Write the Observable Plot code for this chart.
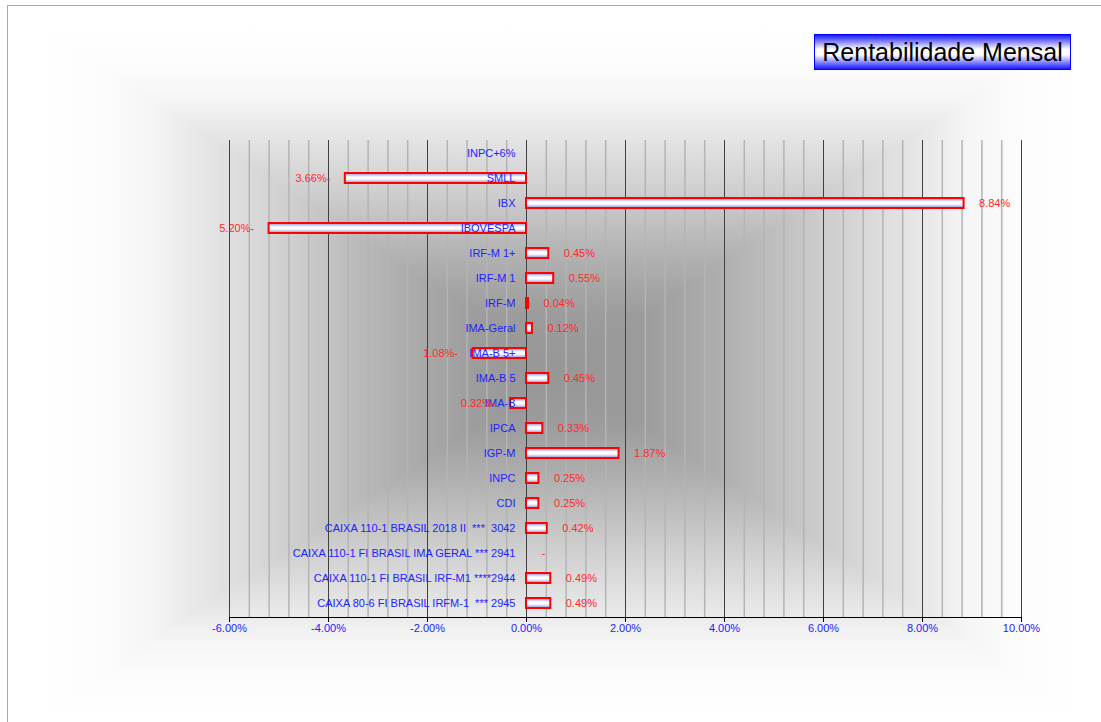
<!DOCTYPE html>
<html>
<head>
<meta charset="utf-8">
<script src="https://cdn.jsdelivr.net/npm/d3@7"></script>
<script src="https://cdn.jsdelivr.net/npm/@observablehq/plot@0.6"></script>
<style>
html, body { margin: 0; padding: 0; background: #fff; overflow: hidden; }
#wrap { position: relative; width: 1101px; height: 722px; overflow: hidden; }
#frame { position: absolute; left: 7px; top: 5px; width: 1200px; height: 800px;
  border-left: 1px solid #aaa; border-top: 1px solid #aaa; }
#bg { position: absolute; left: 40px; top: 25px; width: 1040px; height: 690px;
  background:
    linear-gradient(to right, #fff 0%, #fcfcfc 6%, #f5f5f5 11%, #e8e8e8 15%, #e0e0e0 18%, #cccccc 25%, #b0b0b0 34%, #9c9c9c 42%, #969696 50%, #9c9c9c 58%, #b0b0b0 66%, #cccccc 75%, #e0e0e0 82%, #e8e8e8 85%, #f5f5f5 89%, #fcfcfc 94%, #fff 100%),
    linear-gradient(to bottom, #fff 0%, #fcfcfc 6%, #f5f5f5 11%, #e8e8e8 15%, #e0e0e0 18%, #cccccc 25%, #b0b0b0 34%, #9c9c9c 42%, #969696 50%, #9c9c9c 58%, #b0b0b0 66%, #cccccc 75%, #e0e0e0 82%, #e8e8e8 85%, #f5f5f5 89%, #fcfcfc 94%, #fff 100%);
  background-blend-mode: lighten; }
#chart { position: absolute; left: 0; top: 0; }
#chart svg text { white-space: pre; }
#title { position: absolute; left: 814px; top: 34px; width: 255px; height: 34px;
  border: 1px solid #0000ff;
  background: linear-gradient(to bottom, #1a1aff 0%, #ffffff 42%, #ffffff 58%, #1a1aff 100%);
  font-family: Arial, "Liberation Sans", sans-serif; font-size: 25px; color: #000;
  text-align: center; line-height: 34px; white-space: nowrap; }
</style>
</head>
<body>
<div id="wrap">
  <div id="frame"></div>
  <div id="bg"></div>
  <div id="chart"></div>
  <div id="title">Rentabilidade Mensal</div>
</div>
<script>
// ---- data ----
const categories = [
  "INPC+6%",
  "SMLL",
  "IBX",
  "IBOVESPA",
  "IRF-M 1+",
  "IRF-M 1",
  "IRF-M",
  "IMA-Geral",
  "IMA-B 5+",
  "IMA-B 5",
  "IMA-B",
  "IPCA",
  "IGP-M",
  "INPC",
  "CDI",
  "CAIXA 110-1 BRASIL 2018 II  ***  3042",
  "CAIXA 110-1 FI BRASIL IMA GERAL *** 2941",
  "CAIXA 110-1 FI BRASIL IRF-M1 ****2944",
  "CAIXA 80-6 FI BRASIL IRFM-1  *** 2945"
];
const values = [null, -3.66, 8.84, -5.20, 0.45, 0.55, 0.04, 0.12, -1.08, 0.45, -0.32, 0.33, 1.87, 0.25, 0.25, 0.42, null, 0.49, 0.49];
const valueLabels = ["", "3.66%-", "8.84%", "5.20%-", "0.45%", "0.55%", "0.04%", "0.12%", "1.08%-", "0.45%", "0.32%-", "0.33%", "1.87%", "0.25%", "0.25%", "0.42%", "-", "0.49%", "0.49%"];
const xTicks = [-6, -4, -2, 0, 2, 4, 6, 8, 10];
const minorTicks = [-5.6, -5.2, -4.8, -4.4, -3.6, -3.2, -2.8, -2.4, -1.6, -1.2, -0.8, -0.4,
  0.4, 0.8, 1.2, 1.6, 2.4, 2.8, 3.2, 3.6, 4.4, 4.8, 5.2, 5.6, 6.4, 6.8, 7.2, 7.6, 8.4, 8.8, 9.2, 9.6];

const rows = categories.map((c, i) => ({name: c, value: values[i], label: valueLabels[i]}));
const fmt = d => d.toFixed(2) + "%";

const plot = Plot.plot({
  width: 1101,
  height: 722,
  marginLeft: 229,
  marginRight: 80,
  marginTop: 140,
  marginBottom: 105,
  style: {background: "transparent", fontFamily: "Arial, 'Liberation Sans', sans-serif", fontSize: "11px"},
  x: {domain: [-6, 10], ticks: xTicks, tickFormat: fmt},
  y: {domain: categories, range: [140, 615], paddingInner: 0.6, paddingOuter: 0.3, axis: null},
  marks: [
    Plot.ruleX(minorTicks, {stroke: "#b4b4b4", strokeWidth: 1.5}),
    Plot.ruleX(xTicks, {stroke: "#404040", strokeWidth: 1}),
    Plot.frame({anchor: "bottom", stroke: "#000", strokeWidth: 1.2}),
    Plot.axisX({ticks: xTicks, tickFormat: fmt, tickSize: 5, tickPadding: 2, stroke: "#000", fill: "#2222ff", label: null, fontSize: 11}),
    Plot.barX(rows.filter(d => d.value != null), {x: "value", y: "name", fill: "url(#barGrad)", stroke: "#ff0000", strokeWidth: 2}),
    Plot.text(rows, {x: 0, y: "name", text: "name", dx: -11, textAnchor: "end", fill: "#2222ff", fontSize: 11}),
    Plot.text(rows.filter(d => d.value == null || d.value >= 0), {x: d => d.value ?? 0, y: "name", text: "label", dx: 15, textAnchor: "start", fill: "#ff2a2a", fontSize: 11}),
    Plot.text(rows.filter(d => d.value != null && d.value < 0), {x: "value", y: "name", text: "label", dx: -15, textAnchor: "end", fill: "#ff2a2a", fontSize: 11})
  ]
});

const svg = d3.select(plot);
const defs = svg.insert("defs", ":first-child");
const grad = defs.append("linearGradient").attr("id", "barGrad")
  .attr("x1", 0).attr("y1", 0).attr("x2", 0).attr("y2", 1);
grad.append("stop").attr("offset", "0%").attr("stop-color", "#8a8ad8");
grad.append("stop").attr("offset", "40%").attr("stop-color", "#ffffff");
grad.append("stop").attr("offset", "60%").attr("stop-color", "#ffffff");
grad.append("stop").attr("offset", "100%").attr("stop-color", "#8a8ad8");

document.getElementById("chart").appendChild(plot);
</script>
</body>
</html>
